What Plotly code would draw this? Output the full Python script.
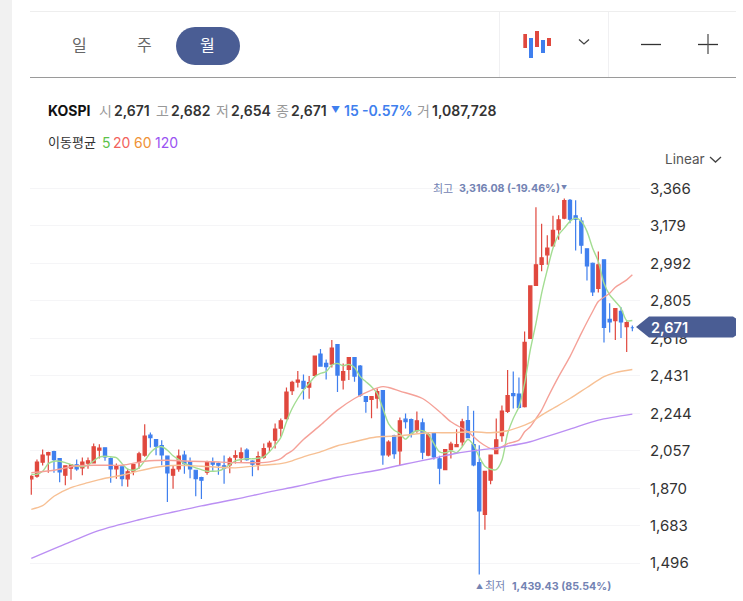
import plotly.graph_objects as go

WIDTH, HEIGHT = 743, 601

# Monthly KOSPI candles, oldest first
opens = [1917,1930,2000,2037,2053,2018,1935,1970,1987,1972,1995,1997,2060,2072,2018,1967,1977,1917,1955,2000,
         2035,2135,2113,2083,2030,1935,1967,2035,2003,1960,1923,1950,1998,1993,1982,1987,2025,2023,2060,2005,
         1990,2025,2077,2110,2170,2218,2357,2400,2403,2375,2433,2540,2493,2490,2587,2410,2463,2522,2480,2327,
         2313,2320,2357,2037,2132,2057,2215,2213,2157,2197,2035,2147,2017,1963,2063,2078,2102,2208,2088,1998,
         1740,1910,2043,2133,2253,2343,2340,2277,2618,2883,2987,3035,3080,3160,3218,3307,3230,3203,3065,2993,
         2868,3010,2713,2707,2753,2677,2671]
highs = [1935,2013,2063,2052,2057,2018,1985,1990,2013,2023,2023,2093,2090,2073,2023,1993,1980,1968,1990,2052,
         2190,2148,2113,2110,2030,1985,2063,2057,2023,1960,1927,2007,2023,1998,2033,2027,2060,2073,2070,2010,
         2053,2093,2107,2193,2218,2373,2407,2455,2438,2430,2530,2565,2513,2610,2587,2493,2522,2523,2485,2330,
         2327,2368,2357,2110,2137,2223,2243,2218,2253,2218,2147,2148,2032,2063,2102,2165,2217,2280,2257,2085,
         1955,2035,2218,2283,2460,2453,2423,2652,2883,3273,3190,3133,3230,3233,3316.08,3314,3307,3223,3068,2997,
         3052,3013,2793,2770,2773,2703,2682]
lows = [1838,1923,1983,1947,1948,1900,1885,1913,1957,1935,1968,1993,2018,2007,1897,1918,1880,1877,1935,1968,
        2027,2073,2035,1985,1802,1868,1952,1943,1920,1830,1817,1937,1957,1937,1893,1945,1993,2000,2007,1930,
        1960,2017,2052,2068,2127,2213,2335,2373,2313,2317,2427,2477,2413,2473,2350,2363,2410,2402,2327,2247,
        2220,2268,1987,2027,2017,1985,2168,2123,2147,2015,2030,2013,1890,1960,2018,2077,2080,2120,1980,1439.43,
        1663,1890,2040,2102,2245,2268,2268,2273,2618,2880,2953,2985,3080,3110,3213,3193,3057,3040,2907,2830,
        2847,2597,2647,2610,2620,2550,2654]
closes = [1930,2000,2035,2048,2013,1952,1982,1987,1967,2000,2007,2077,2070,2027,1967,1982,1918,1952,1988,2042,
          2130,2122,2080,2037,1947,1965,2030,1993,1967,1918,1910,2003,1990,1985,1970,2017,2033,2047,2013,1990,
          2028,2068,2095,2165,2207,2350,2398,2410,2368,2397,2530,2480,2477,2570,2435,2452,2522,2430,2335,2303,
          2327,2352,2037,2100,2043,2207,2202,2140,2207,2050,2137,2027,1970,2063,2090,2088,2202,2123,1987,1757,
          1955,2035,2112,2255,2333,2332,2273,2598,2880,2985,3020,3068,3157,3210,3305,3213,3213,3083,2980,2850,
          2985,2673,2700,2767,2700,2697,2671]

# Moving averages as read per month index
ma5 = [1940,1940,1955,1993,2005,2005,1998,1988,1980,1978,1985,2007,2025,2030,2027,2023,1993,1965,1960,1972,
       2007,2047,2072,2077,2060,2032,2013,1993,1983,1972,1963,1955,1955,1957,1968,1988,2007,2013,2017,2017,
       2020,2027,2052,2085,2123,2202,2268,2318,2360,2393,2427,2443,2452,2485,2493,2482,2488,2473,2427,2402,
       2377,2343,2268,2193,2160,2143,2115,2143,2157,2157,2140,2093,2052,2047,2057,2048,2077,2113,2085,2027,
       1980,1965,1963,2010,2143,2218,2277,2393,2560,2693,2843,2960,3068,3135,3168,3202,3218,3202,3152,3068,
       3002,2893,2835,2802,2768,2707,2707]
ma20_idx = [0,4,8,12,16,20,24,28,32,36,40,42,44,45,46,48,51,54,57,60,62,63,65,69,72,74,77,79,81,82,84,86,
            87,88,89,90,91,93,95,97,99,100,102,103,105,106]
ma20 = [1948,1960,1982,1985,1985,2005,2010,2005,2002,1998,1998,2002,2018,2040,2057,2113,2185,2260,2318,2360,
        2377,2373,2355,2318,2252,2202,2152,2102,2068,2063,2093,2110,2152,2177,2218,2260,2318,2427,2527,2643,
        2752,2802,2843,2873,2910,2935]
ma60_idx = [0,2,4,7,10,13,16,19,22,24,26,30,36,40,43,44,46,48,51,54,57,60,62,65,70,74,78,81,84,87,88,90,92,
            95,98,101,103,106]
ma60 = [1765,1783,1830,1873,1898,1920,1935,1957,1975,1982,1985,1980,1972,1983,1990,1993,2007,2027,2052,2082,
        2102,2122,2128,2132,2147,2147,2152,2147,2157,2185,2197,2235,2268,2318,2373,2427,2447,2463]
ma120_idx = [0,5,12,19,24,26,30,36,42,47,54,61,65,67,71,75,81,84,88,90,95,100,106]
ma120 = [1520,1580,1660,1713,1745,1757,1782,1815,1852,1880,1925,1960,1985,1997,2020,2045,2068,2080,2102,2120,
         2165,2210,2240]

price_ticks = [3366,3179,2992,2805,2618,2431,2244,2057,1870,1683,1496]

months = list(range(len(closes)))

RED, BLUE, NAVY = "#e0483e", "#3f7fee", "#4a5d94"
FONT = "Inter, 'Noto Sans CJK KR', sans-serif"


def px(x):
    return x / WIDTH


def py(y):
    return 1 - y / HEIGHT


def pt(x, y):
    return f"{px(x):.5f},{py(y):.5f}"


def label(x, y, text, size=14, color="#333333", weight=400, anchor="left"):
    offset = -1 if anchor == "left" else 0
    return dict(xref="paper", yref="paper", x=px(x + offset), y=py(y), text=text, showarrow=False,
                xanchor=anchor, yanchor="middle", borderpad=0,
                font=dict(family=FONT, size=size, color=color, weight=weight))


def rule(x0, y0, x1, y1, color, width=1):
    return dict(type="line", xref="paper", yref="paper", x0=px(x0), y0=py(y0), x1=px(x1), y1=py(y1),
                line=dict(color=color, width=width), layer="above")


def block(x0, y0, x1, y1, color):
    return dict(type="rect", xref="paper", yref="paper", x0=px(x0), y0=py(y0), x1=px(x1), y1=py(y1),
                fillcolor=color, line=dict(width=0), layer="above")


def outline(points, color, width=1.3):
    d = "M" + " L".join(pt(a, b) for a, b in points)
    return dict(type="path", xref="paper", yref="paper", path=d, line=dict(color=color, width=width), layer="above")


def pill(x0, y0, x1, y1, color):
    r = (y1 - y0) / 2
    k = r * 0.55
    ym = (y0 + y1) / 2
    d = (f"M{pt(x0 + r, y0)} L{pt(x1 - r, y0)} "
         f"C{pt(x1 - r + k, y0)} {pt(x1, ym - k)} {pt(x1, ym)} "
         f"C{pt(x1, ym + k)} {pt(x1 - r + k, y1)} {pt(x1 - r, y1)} "
         f"L{pt(x0 + r, y1)} "
         f"C{pt(x0 + r - k, y1)} {pt(x0, ym + k)} {pt(x0, ym)} "
         f"C{pt(x0, ym - k)} {pt(x0 + r - k, y0)} {pt(x0 + r, y0)} Z")
    return dict(type="path", xref="paper", yref="paper", layer="above", fillcolor=color,
                line=dict(width=0), path=d)


fig = go.Figure()
fig.add_trace(go.Candlestick(
    x=months, open=opens, high=highs, low=lows, close=closes,
    increasing=dict(line=dict(color=RED, width=1.2), fillcolor=RED),
    decreasing=dict(line=dict(color=BLUE, width=1.2), fillcolor=BLUE),
    whiskerwidth=0, showlegend=False, hoverinfo="skip",
))
for xs, ys, color in [
    (months, ma5, "#a3dd92"),
    (ma20_idx, ma20, "#f5a198"),
    (ma60_idx, ma60, "#f7c094"),
    (ma120_idx, ma120, "#bb8ff3"),
]:
    fig.add_trace(go.Scatter(x=xs, y=ys, mode="lines", showlegend=False, hoverinfo="skip",
                             line=dict(color=color, width=1.4, shape="spline", smoothing=0.8)))

shapes = [
    block(0, 0, 12, 601, "#f1f1f1"),
    rule(30, 11.5, 736, 11.5, "#eeeeee"),
    rule(30, 77.5, 736, 77.5, "#9a9a9a"),
    rule(499.5, 12, 499.5, 77, "#f0f0f2"),
    rule(608.5, 12, 608.5, 77, "#f0f0f2"),
    pill(176, 27, 240, 65, NAVY),
    block(523.3, 34, 527, 48, RED),
    block(529, 38, 533, 58, BLUE),
    block(535, 31, 539, 47, RED),
    block(541, 40, 545, 53, BLUE),
    block(547, 38, 551, 46, RED),
    outline([(579, 39.5), (584, 44), (589, 39.5)], "#444444"),
    rule(641, 44.5, 661, 44.5, "#333333", 1.3),
    rule(698, 44.5, 718, 44.5, "#333333", 1.3),
    rule(708, 34, 708, 54, "#555555", 1.3),
    outline([(710, 157), (715.5, 162), (721, 157)], "#444444"),
    # Current price tag on the axis
    dict(type="path", xref="paper", yref="paper", layer="above", fillcolor=NAVY, line=dict(width=0),
         path="M" + " L".join(pt(a, b) for a, b in [
             (636, 327), (649, 316.5), (733, 316.5), (736, 318.5), (736, 335.5), (733, 337.5), (649, 337.5)]) + " Z"),
]

annotations = [
    label(79, 45, "일", 16, "#666666", anchor="center"),
    label(144, 45, "주", 16, "#666666", anchor="center"),
    label(207, 45, "월", 16, "#ffffff", anchor="center"),
    label(47.5, 110, "KOSPI", 14, "#111111", 700),
    label(99, 110, "시", 14, "#999999"),
    label(114, 110, "2,671", 14, "#333333", 600),
    label(156, 110, "고", 14, "#999999"),
    label(171, 110, "2,682", 14, "#333333", 600),
    label(216, 110, "저", 14, "#999999"),
    label(231, 110, "2,654", 14, "#333333", 600),
    label(276, 110, "종", 14, "#999999"),
    label(291, 110, "2,671", 14, "#333333", 600),
    label(331, 109, "▼", 9, "#3f7fee"),
    label(344, 110, "15", 14, "#3f7fee", 600),
    label(362, 110, "-0.57%", 14, "#3f7fee", 600),
    label(417, 110, "거", 14, "#999999"),
    label(432, 110, "1,087,728", 14, "#333333", 600),
    label(47.5, 142, "이동평균", 13, "#333333"),
    label(102, 142, "5", 14, "#5cc24a"),
    label(113, 142, "20", 14, "#f2625c"),
    label(134, 142, "60", 14, "#ef9236"),
    label(155, 142, "120", 14, "#9a52f2"),
    label(665, 159, "Linear", 13.5, "#555555"),
    label(433, 189, "최고", 11, "#7383b3"),
    label(459, 189, "3,316.08 (-19.46%)", 10.7, "#7383b3", 700),
    label(561, 188, "▼", 6, "#7383b3"),
    label(476, 586, "▲", 7, "#7383b3"),
    label(485, 586, "최저", 11, "#7383b3"),
    label(512, 586, "1,439.43 (85.54%)", 10.7, "#7383b3", 700),
    label(651, 327.5, "2,671", 14.5, "#ffffff", 600),
]

fig.update_layout(
    width=WIDTH, height=HEIGHT, autosize=False,
    margin=dict(l=0, r=0, t=0, b=0),
    paper_bgcolor="#ffffff", plot_bgcolor="#ffffff",
    font=dict(family=FONT),
    boxgap=0.2,
    xaxis=dict(domain=[px(30), px(640)], range=[-0.23, 107.35], visible=False, rangeslider=dict(visible=False)),
    yaxis=dict(domain=[0, 421 / HEIGHT], range=[1307.4, 3408.4], side="right",
               tickvals=price_ticks, tickformat=",", showgrid=True, gridcolor="#f5f5f7", gridwidth=1,
               zeroline=False, showline=False, ticks="outside", ticklen=6, tickcolor="rgba(0,0,0,0)",
               tickfont=dict(family=FONT, size=15, color="#333333")),
    shapes=shapes, annotations=annotations,
)

fig.write_html("out.html")
